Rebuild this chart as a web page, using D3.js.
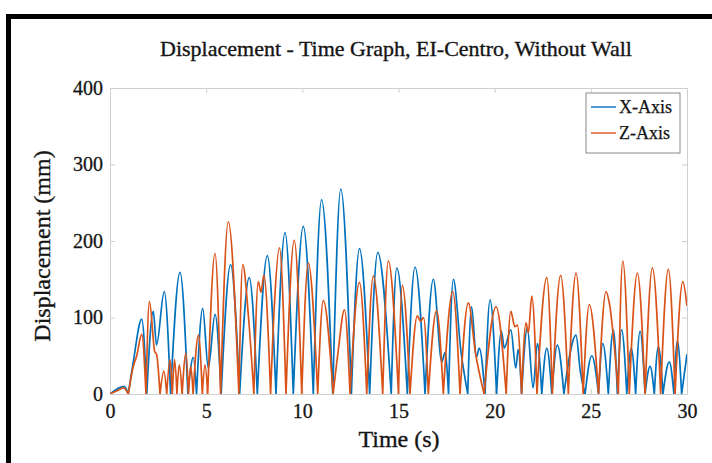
<!DOCTYPE html>
<html>
<head>
<meta charset="UTF-8" />
<script src="https://cdn.jsdelivr.net/npm/d3@7"></script>
<title>Displacement - Time Graph</title>
<style>
    body { margin: 0; background: white; overflow: hidden; }
    svg { display: block; font-family: "Liberation Serif", "DejaVu Serif", serif; }
</style>
</head>
<body>
<div id="chart"></div>
<script>
// values (peaks and zero crossings)
const timeX = [0, 0.74, 0.95, 1.2, 1.65, 1.91, 2.25, 2.42, 2.82, 3.15, 3.64, 4.05, 4.33, 4.5, 4.82, 5.11, 5.46, 5.78,
    6.27, 6.74, 7.24, 7.66, 8.18, 8.63, 9.1, 9.53, 10.05, 10.57, 11.0, 11.58, 12.0, 12.55, 12.97, 13.5, 13.92, 14.62,
    14.91, 15.46, 15.86, 16.38, 16.81, 17.25, 17.42, 17.6, 17.85, 18.25, 18.6, 18.8, 19.05, 19.2, 19.5, 19.76, 20.1,
    20.35, 20.5, 20.84, 21.1, 21.22, 21.4, 21.7, 22.0, 22.22, 22.45, 22.71, 22.97, 23.26, 23.6, 24.23, 24.45, 24.7,
    25.05, 25.4, 25.62, 25.91, 26.17, 26.38, 26.6, 26.87, 27.1, 27.33, 27.56, 27.82, 28.08, 28.3, 28.51, 28.75, 29.08,
    29.32, 29.5, 29.72, 30];
const dispX = [0, 10, 0, 40, 98, 0, 108, 64, 134, 0, 159, 0, 48, 0, 112, 34, 104, 0,
    169, 0, 152, 0, 181, 0, 211, 0, 219, 0, 254, 0, 268, 0, 190, 0, 185, 0,
    165, 0, 166, 0, 150, 42, 54, 0, 150, 55, 0, 114, 48, 60, 0, 123, 0,
    82, 60, 84, 34, 58, 0, 86, 8, 66, 0, 60, 0, 64, 0, 77, 30, 0,
    50, 0, 66, 0, 84, 0, 84, 0, 60, 0, 82, 0, 36, 0, 62, 0, 42,
    0, 69, 0, 52];

const timeZ = [0, 0.43, 0.7, 0.95, 1.21, 1.39, 1.65, 1.87, 2.05, 2.33, 2.42, 2.6, 2.8, 2.95, 3.12, 3.24, 3.36, 3.48,
    3.6, 3.75, 3.95, 4.08, 4.2, 4.32, 4.6, 4.8, 4.94, 5.08, 5.46, 5.75, 6.15, 6.7, 6.9, 7.2, 7.48, 7.71, 7.85, 8.0,
    8.35, 8.55, 8.81, 9.15, 9.58, 9.97, 10.31, 10.8, 11.09, 11.6, 11.85, 12.19, 12.48, 12.97, 13.35, 13.69, 14.18,
    14.47, 15.0, 15.2, 15.6, 15.98, 16.15, 16.3, 16.55, 16.98, 17.33, 17.82, 18.2, 18.63, 19.0, 19.45, 20.07, 20.6,
    20.84, 21.05, 21.18, 21.4, 21.63, 21.75, 21.93, 22.2, 22.71, 23.0, 23.43, 23.83, 24.23, 24.6, 24.92, 25.4, 25.79,
    25.96, 26.43, 26.66, 27.0, 27.42, 27.82, 28.2, 28.63, 29.03, 29.38, 29.78, 30];
const dispZ = [0, 5, 8, 0, 36, 50, 78, 0, 121, 55, 52, 0, 30, 0, 45, 0, 45, 0,
    38, 0, 53, 0, 36, 0, 77, 0, 38, 0, 184, 0, 225, 0, 169, 101, 0, 147, 133, 155,
    0, 118, 191, 0, 201, 0, 171, 0, 122, 0, 53, 110, 0, 146, 0, 154, 0,
    174, 0, 142, 0, 102, 95, 100, 0, 109, 0, 134, 0, 119, 54, 0, 114, 0,
    108, 88, 90, 0, 93, 80, 128, 0, 152, 0, 155, 0, 158, 0, 117, 0, 134,
    119, 0, 174, 0, 158, 0, 165, 0, 163, 0, 147, 115];

const seriesNames = ["X-Axis", "Z-Axis"];
const xTicks = [0, 5, 10, 15, 20, 25, 30];
const yTicks = [0, 100, 200, 300, 400];

const W = 712, H = 463;
const plotLeft = 110, plotRight = 687, plotTop = 88, plotBottom = 394;
const blue = "#0072BD", orange = "#D95319";
const ink = "#151515";

const svg = d3.select("#chart").append("svg")
    .attr("width", W)
    .attr("height", H);

svg.append("rect").attr("width", W).attr("height", H).attr("fill", "white");

// black frame around the figure
svg.append("rect")
    .attr("x", 8.5).attr("y", 16.5)
    .attr("width", 900).attr("height", 700)
    .attr("fill", "none")
    .attr("stroke", "black")
    .attr("stroke-width", 5);

const x = d3.scaleLinear().domain([0, 30]).range([plotLeft, plotRight]);
const y = d3.scaleLinear().domain([0, 400]).range([plotBottom, plotTop]);

const axisColor = "#cfcfcf";

// axes, ticks pointing inward like matlab
const gx = svg.append("g")
    .attr("transform", "translate(0," + plotBottom + ")")
    .call(d3.axisBottom(x).tickValues(xTicks).tickSize(-5).tickPadding(10).tickSizeOuter(0));
const gxTop = svg.append("g")
    .attr("transform", "translate(0," + plotTop + ")")
    .call(d3.axisTop(x).tickValues(xTicks).tickSize(-5).tickFormat("").tickSizeOuter(0));
const gy = svg.append("g")
    .attr("transform", "translate(" + plotLeft + ",0)")
    .call(d3.axisLeft(y).tickValues(yTicks).tickSize(-5).tickPadding(7).tickSizeOuter(0));
const gyRight = svg.append("g")
    .attr("transform", "translate(" + plotRight + ",0)")
    .call(d3.axisRight(y).tickValues(yTicks).tickSize(-5).tickFormat("").tickSizeOuter(0));

[gx, gxTop, gy, gyRight].forEach(g => {
    g.selectAll("path").attr("stroke", axisColor);
    g.selectAll("line").attr("stroke", axisColor);
    g.selectAll("text")
        .attr("fill", ink)
        .attr("stroke", ink)
        .attr("stroke-width", 0.3)
        .style("font-family", "'Liberation Serif', serif")
        .style("font-size", "20px");
});

// clip for the lines
svg.append("clipPath").attr("id", "plotClip")
    .append("rect")
    .attr("x", plotLeft).attr("y", plotTop)
    .attr("width", plotRight - plotLeft).attr("height", plotBottom - plotTop);

// split a series into arches between zero points so the troughs stay sharp
function arches(ts, vs) {
    const segs = [];
    let cur = [[ts[0], vs[0]]];
    for (let i = 1; i < ts.length; i++) {
        cur.push([ts[i], vs[i]]);
        if (vs[i] === 0 && i < ts.length - 1) {
            segs.push(cur);
            cur = [[ts[i], vs[i]]];
        }
    }
    if (cur.length > 1) segs.push(cur);
    return segs;
}

const line = d3.line()
    .x(d => x(d[0]))
    .y(d => y(d[1]))
    .curve(d3.curveMonotoneX);

const series = [
    { name: seriesNames[0], t: timeX, v: dispX, color: blue },
    { name: seriesNames[1], t: timeZ, v: dispZ, color: orange }
];

svg.append("g").attr("clip-path", "url(#plotClip)")
    .selectAll("path")
    .data(series)
    .enter()
    .append("path")
    .attr("d", s => arches(s.t, s.v).map(seg => line(seg)).join(""))
    .attr("fill", "none")
    .attr("stroke", s => s.color)
    .attr("stroke-width", 1.7)
    .attr("stroke-linejoin", "round");

// title and axis labels
function label(sel, size) {
    return sel.attr("text-anchor", "middle")
        .style("font-size", size + "px")
        .attr("fill", ink)
        .attr("stroke", ink)
        .attr("stroke-width", 0.35);
}

label(svg.append("text").attr("x", 396).attr("y", 56), 22)
    .text("Displacement - Time Graph, EI-Centro, Without Wall");

label(svg.append("text").attr("x", 399).attr("y", 447), 24)
    .text("Time (s)");

label(svg.append("text").attr("transform", "translate(50,246) rotate(-90)"), 24)
    .text("Displacement (mm)");

// legend
const legend = svg.append("g").attr("transform", "translate(586,93)");
legend.append("rect")
    .attr("width", 94).attr("height", 60)
    .attr("fill", "white")
    .attr("stroke", "#8a8a8a")
    .attr("stroke-width", 1);
series.forEach((s, i) => {
    const ly = 14 + i * 26;
    legend.append("line")
        .attr("x1", 5).attr("x2", 30)
        .attr("y1", ly).attr("y2", ly)
        .attr("stroke", s.color)
        .attr("stroke-width", 1.4);
    legend.append("text")
        .attr("x", 33).attr("y", ly + 6)
        .style("font-size", "18px")
        .attr("fill", ink)
        .attr("stroke", ink)
        .attr("stroke-width", 0.25)
        .text(s.name);
});
</script>
</body>
</html>
